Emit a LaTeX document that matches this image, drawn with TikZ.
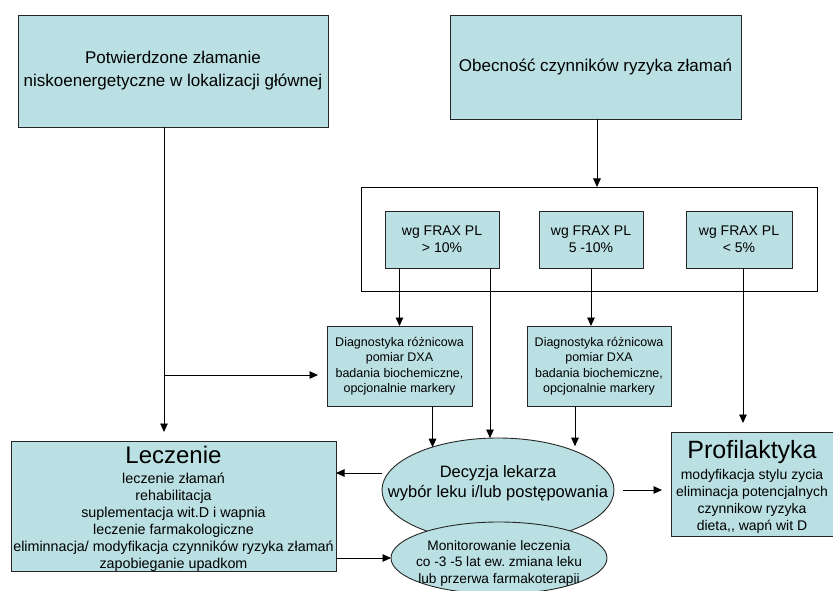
\documentclass[tikz,border=0pt]{standalone}
\usepackage{fontspec}
\setmainfont{Liberation Sans}
\usetikzlibrary{arrows.meta,shapes.geometric}
\definecolor{boxfill}{RGB}{186,224,227}
\frenchspacing
\begin{document}
\begin{tikzpicture}[x=1pt,y=-1pt,
  box/.style={draw=black!85, line width=0.9pt, fill=boxfill, inner sep=0pt, outer sep=0pt, align=center},
  ell/.style={ellipse, draw=black!85, line width=0.9pt, fill=boxfill, inner sep=0pt, outer sep=0pt},
  txt/.style={inner sep=0pt, outer sep=0pt, align=center},
  bigtxt/.style={font=\fontsize{17}{23}\selectfont},
  fraxtxt/.style={font=\fontsize{14}{17}\selectfont},
  diagtxt/.style={font=\fontsize{12.5}{15.5}\selectfont},
  arr/.style={-{Triangle[length=8.5pt,width=7.5pt]}, line width=0.9pt, black}
]
\useasboundingbox (0,0) rectangle (833,591);

% top boxes
\node[box, bigtxt, minimum width=310pt, minimum height=112pt] (pot) at (173,71)
  {Potwierdzone złamanie\\niskoenergetyczne w lokalizacji głównej};
\node[box, bigtxt, minimum width=291pt, minimum height=104pt] (obe) at (595.5,67)
  {Obecność czynników ryzyka złamań};

% frame with FRAX boxes
\node[draw=black, line width=0.9pt, fill=white, inner sep=0pt, outer sep=0pt,
  minimum width=456pt, minimum height=104pt] (frame) at (589,239) {};
\node[box, fraxtxt, minimum width=114pt, minimum height=57pt] (fa) at (442,239.5) {wg FRAX PL\\> 10\%};
\node[box, fraxtxt, minimum width=104pt, minimum height=57pt] (fb) at (591,239.5) {wg FRAX PL\\5 -10\%};
\node[box, fraxtxt, minimum width=106pt, minimum height=57pt] (fc) at (739,239.5) {wg FRAX PL\\< 5\%};

% diagnostics
\node[box, diagtxt, minimum width=145pt, minimum height=80pt] (d1) at (399.5,366)
  {Diagnostyka różnicowa\\pomiar DXA\\badania biochemiczne,\\opcjonalnie markery};
\node[box, diagtxt, minimum width=144pt, minimum height=80pt] (d2) at (599,366)
  {Diagnostyka różnicowa\\pomiar DXA\\badania biochemiczne,\\opcjonalnie markery};

% Leczenie
\node[box, minimum width=325pt, minimum height=130pt] (lecz) at (173.5,506) {};
\node[txt, font=\fontsize{24}{26}\selectfont] (leczT) at (173.5,455) {Leczenie};
\node[txt, font=\fontsize{14.3}{17}\selectfont] (leczB) at (173.5,522.5)
  {leczenie złamań\\rehabilitacja\\suplementacja wit.D i wapnia\\leczenie farmakologiczne\\eliminnacja/ modyfikacja czynników ryzyka złamań\\zapobieganie upadkom};

% Profilaktyka
\node[box, minimum width=166pt, minimum height=104pt] (prof) at (754,484) {};
\node[txt, font=\fontsize{25}{28}\selectfont] (profT) at (752,452) {Profilaktyka};
\node[txt, font=\fontsize{14}{17}\selectfont] (profB) at (752,501)
  {modyfikacja stylu zycia\\eliminacja potencjalnych\\czynnikow ryzyka\\dieta,{},{} wapń wit D};

% ellipses
\node[ell, minimum width=232pt, minimum height=104pt] (dec) at (498,490) {};
\node[ell, minimum width=216pt, minimum height=72pt] (mon) at (499,558) {};
\node[txt, font=\fontsize{16.5}{20}\selectfont] (decT) at (498,483)
  {Decyzja lekarza\\wybór leku i/lub postępowania};
\node[txt, font=\fontsize{13.7}{16.5}\selectfont] (monT) at (499,563)
  {Monitorowanie leczenia\\co -3 -5 lat ew. zmiana leku\\lub przerwa farmakoterapii};

% connectors
\draw[arr] ([xshift=1.5pt]obe.south) -- ([xshift=1.5pt]obe.south |- frame.north);
\draw[arr] (d1.north |- fa.south) -- (d1.north);
\draw[arr] ([xshift=48pt]fa.south) -- ([xshift=48pt]fa.south |- dec.north);
\draw[arr] (fb.south) -- (fb.south |- d2.north);
\draw[arr, shorten >=9pt] ([xshift=4pt]fc.south) -- ([xshift=4pt]fc.south |- prof.north);
\draw[arr] ([xshift=33pt]d1.south) -- ([xshift=33pt]d1.south |- dec.147);
\draw[arr] ([xshift=-24pt]d2.south) -- ([xshift=-24pt]d2.south |- dec.35);
\draw[arr, shorten >=9pt] ([xshift=-9pt]pot.south) -- ([xshift=-9pt]pot.south |- lecz.north);
\coordinate (br) at (164,375);
\draw[arr, shorten >=9pt] (br) -- (br -| d1.west);
\draw[arr] ([yshift=17pt]dec.west) -- ([yshift=17pt]dec.west -| lecz.east);
\draw[arr] (lecz.east |- mon.west) -- (mon.west);
\draw[arr, shorten <=9pt, shorten >=9pt] (dec.east) -- (dec.east -| prof.west);
\end{tikzpicture}
\end{document}
